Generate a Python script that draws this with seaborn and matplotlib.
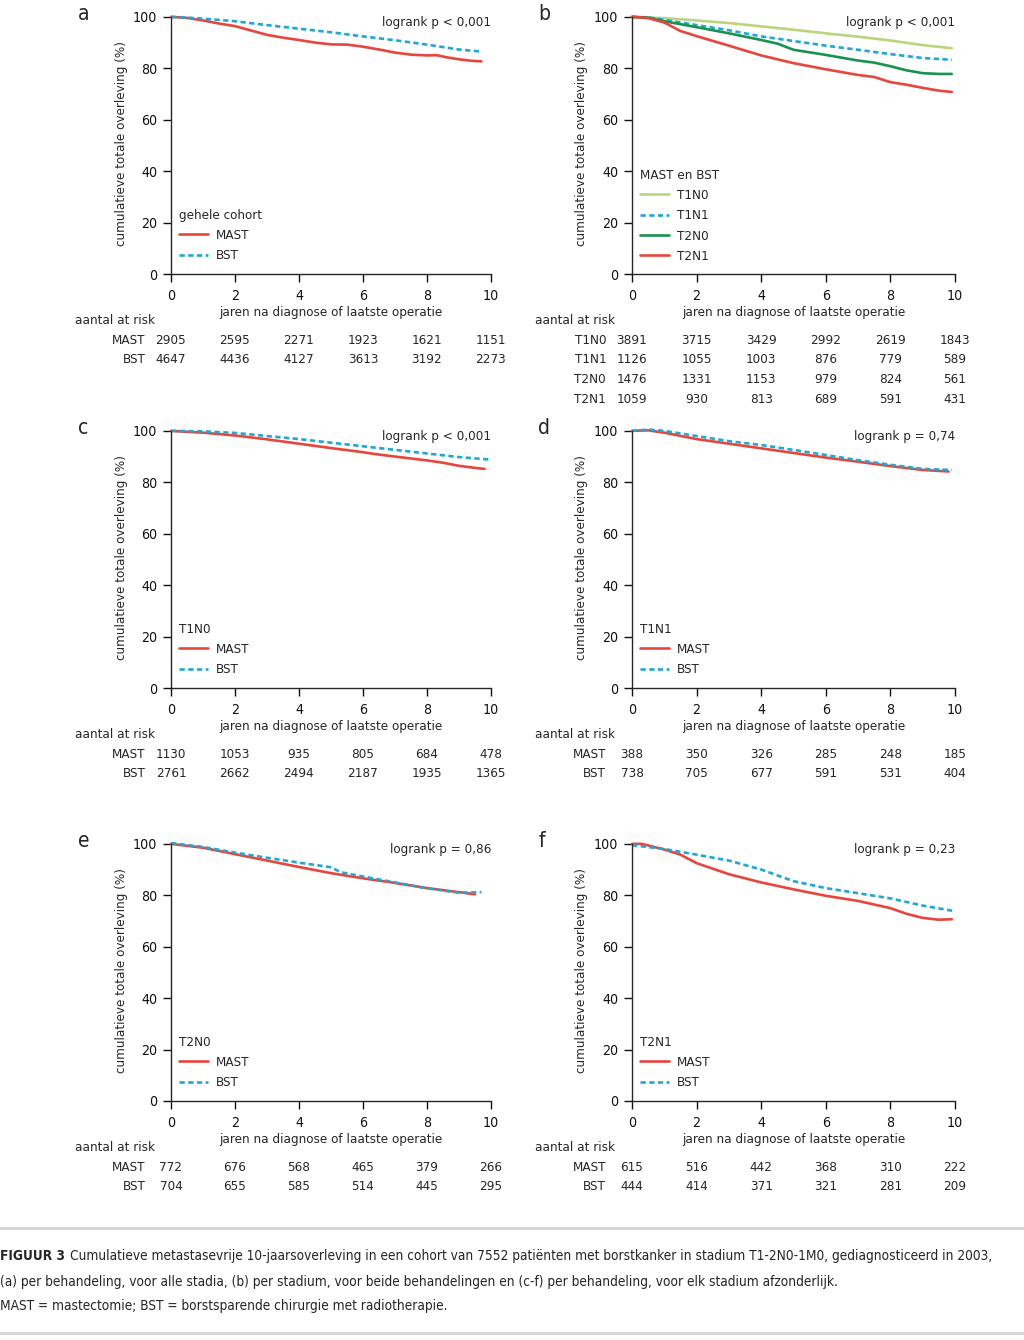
import matplotlib
matplotlib.use('Agg')

import numpy as np
import pandas as pd
import seaborn as sns
import matplotlib.pyplot as plt
from matplotlib.lines import Line2D

# ---------- stijl en lettertype ----------
sns.set_style('ticks')
plt.rcParams['font.family'] = ['Liberation Sans Narrow', 'DejaVu Sans']
plt.rcParams['font.stretch'] = 'condensed'
plt.rcParams['axes.linewidth'] = 1.0
# ------------------------------------------

RED = '#e8453c'
BLUE = '#1fa7d6'
GREEN = '#17924f'
LIGHT = '#bcd47e'

# ---- data ----
# a: gehele cohort
a_mast_t = [0, 0.5, 1, 1.5, 2, 2.5, 3, 3.5, 4, 4.5, 5, 5.5, 6, 6.5, 7, 7.5, 8, 8.3, 8.6, 9, 9.4, 9.7]
a_mast_s = [100, 99.6, 98.6, 97.4, 96.4, 94.7, 93.0, 91.9, 91.0, 90.0, 89.3, 89.2, 88.4, 87.3, 86.1, 85.3, 85.0, 85.1, 84.3, 83.5, 82.9, 82.7]
a_bst_t = [0, 0.5, 1, 2, 3, 4, 5, 6, 7, 8, 9, 9.7]
a_bst_s = [100, 99.7, 99.3, 98.3, 96.8, 95.4, 94.0, 92.4, 90.9, 89.2, 87.3, 86.5]

# b: per stadium
b_t1n0_t = [0, 1, 2, 3, 4, 5, 6, 7, 8, 9, 9.9]
b_t1n0_s = [100, 99.5, 98.6, 97.6, 96.3, 95.0, 93.6, 92.3, 90.8, 89.0, 87.8]
b_t1n1_t = [0, 0.5, 1, 2, 3, 4, 5, 6, 7, 8, 9, 9.9]
b_t1n1_s = [100, 99.8, 98.8, 96.8, 94.8, 92.4, 90.6, 88.8, 87.2, 85.5, 84.0, 83.3]
b_t2n0_t = [0, 0.5, 1, 2, 3, 4, 4.5, 5, 6, 7, 7.5, 8, 8.5, 9, 9.5, 9.9]
b_t2n0_s = [100, 99.7, 98.3, 96.0, 93.6, 91.0, 89.6, 87.2, 85.2, 83.0, 82.2, 80.8, 79.2, 78.1, 77.8, 77.8]
b_t2n1_t = [0, 0.5, 1, 1.5, 2, 3, 4, 5, 6, 7, 7.5, 8, 8.5, 9, 9.5, 9.9]
b_t2n1_s = [100, 99.5, 97.8, 94.5, 92.5, 88.8, 85.0, 82.0, 79.6, 77.4, 76.6, 74.6, 73.6, 72.4, 71.3, 70.8]

# c: T1N0
c_mast_t = [0, 0.5, 1, 2, 3, 4, 5, 6, 6.3, 7, 8, 8.5, 9, 9.5, 9.8]
c_mast_s = [100, 99.6, 99.3, 98.2, 96.7, 95.0, 93.3, 91.7, 91.1, 90.0, 88.5, 87.6, 86.4, 85.6, 85.2]
c_bst_t = [0, 1, 2, 3, 4, 5, 6, 7, 8, 9, 10]
c_bst_s = [100, 99.8, 99.2, 98.0, 96.8, 95.4, 94.0, 92.6, 91.2, 89.8, 88.8]

# d: T1N1
d_mast_t = [0, 0.5, 1, 2, 3, 4, 5, 6, 7, 8, 9, 9.8]
d_mast_s = [100, 100.2, 99.3, 96.8, 95.0, 93.2, 91.4, 89.6, 88.0, 86.3, 84.8, 84.2]
d_bst_t = [0, 0.5, 1, 2, 3, 4, 5, 6, 7, 8, 9, 9.9]
d_bst_s = [100, 100.5, 100.0, 98.0, 96.0, 94.5, 92.6, 90.6, 88.6, 86.8, 85.2, 84.8]

# e: T2N0
e_mast_t = [0, 1, 2, 3, 4, 5, 6, 7, 8, 9, 9.5]
e_mast_s = [100, 98.5, 96.0, 93.5, 91.0, 88.6, 86.6, 84.8, 82.8, 81.2, 80.4]
e_bst_t = [0, 1, 2, 3, 4, 5, 5.3, 6, 7, 8, 9, 9.7]
e_bst_s = [100.3, 98.8, 96.6, 94.6, 92.7, 90.9, 89.0, 87.3, 85.0, 82.7, 81.0, 81.2]

# f: T2N1
f_mast_t = [0, 0.3, 1, 1.5, 2, 3, 4, 5, 6, 7, 8, 8.5, 9, 9.5, 9.9]
f_mast_s = [100, 100, 97.8, 95.8, 92.5, 88.2, 85.0, 82.3, 79.8, 77.8, 75.0, 72.8, 71.2, 70.5, 70.7]
f_bst_t = [0, 1, 2, 3, 4, 5, 6, 7, 8, 9, 10]
f_bst_s = [99.5, 98.0, 95.8, 93.5, 90.0, 85.5, 82.8, 80.8, 78.8, 76.0, 73.8]

# aantal at risk
risk_years = [0, 2, 4, 6, 8, 10]
a_risk_mast = [2905, 2595, 2271, 1923, 1621, 1151]
a_risk_bst = [4647, 4436, 4127, 3613, 3192, 2273]
b_risk_t1n0 = [3891, 3715, 3429, 2992, 2619, 1843]
b_risk_t1n1 = [1126, 1055, 1003, 876, 779, 589]
b_risk_t2n0 = [1476, 1331, 1153, 979, 824, 561]
b_risk_t2n1 = [1059, 930, 813, 689, 591, 431]
c_risk_mast = [1130, 1053, 935, 805, 684, 478]
c_risk_bst = [2761, 2662, 2494, 2187, 1935, 1365]
d_risk_mast = [388, 350, 326, 285, 248, 185]
d_risk_bst = [738, 705, 677, 591, 531, 404]
e_risk_mast = [772, 676, 568, 465, 379, 266]
e_risk_bst = [704, 655, 585, 514, 445, 295]
f_risk_mast = [615, 516, 442, 368, 310, 222]
f_risk_bst = [444, 414, 371, 321, 281, 209]

panel_letters = ['a', 'b', 'c', 'd', 'e', 'f']
logrank_texts = ['logrank p < 0,001', 'logrank p < 0,001', 'logrank p < 0,001',
                 'logrank p = 0,74', 'logrank p = 0,86', 'logrank p = 0,23']
legend_titles = ['gehele cohort', 'MAST en BST', 'T1N0', 'T1N1', 'T2N0', 'T2N1']

W, H = 1024, 1340
fig = plt.figure(figsize=(W / 100, H / 100), dpi=100)

FS = 9.6


def make_axes(left_px, bottom_px, width_px=321, height_px=261):
    return fig.add_axes([left_px / W, 1 - bottom_px / H, width_px / W, height_px / H])


def style_axes(ax, letter, logrank):
    ax.set_xlim(0, 10)
    ax.set_ylim(0, 101.5)
    ax.spines['left'].set_bounds(0, 100)
    ax.spines['bottom'].set_bounds(0, 10)
    sns.despine(ax=ax)
    ax.set_xticks([0, 2, 4, 6, 8, 10])
    ax.set_yticks([0, 20, 40, 60, 80, 100])
    ax.tick_params(axis='both', direction='out', length=6, width=1, labelsize=FS + 0.6, colors='#111111')
    ax.tick_params(axis='y', pad=4)
    ax.tick_params(axis='x', pad=5)
    ax.set_xlabel('jaren na diagnose of laatste operatie', fontsize=FS, labelpad=2)
    ax.set_ylabel('cumulatieve totale overleving (%)', fontsize=FS)
    ax.yaxis.set_label_coords(-0.135, 0.5)
    ax.text(-0.29, 0.995, letter, transform=ax.transAxes, fontsize=15, ha='left', va='center')
    ax.text(1.0, 0.965, logrank, transform=ax.transAxes, fontsize=FS, ha='right', va='center')


def add_line(ax, t, s, color, label, dashed=False):
    ls = (0, (2.0, 1.3)) if dashed else '-'
    df = pd.DataFrame({'t': t, 's': s})
    sns.lineplot(data=df, x='t', y='s', ax=ax, color=color, linestyle=ls, linewidth=1.9,
                 label=label, clip_on=False, legend=False)


def add_legend(ax, title, top):
    leg = ax.legend(title=title, loc='upper left', bbox_to_anchor=(0.025, top), frameon=False,
                    fontsize=FS, title_fontsize=FS, borderaxespad=0, borderpad=0,
                    handlelength=2.2, handletextpad=0.55, labelspacing=0.55, alignment='left')
    return leg


def add_risk(ax, rows):
    ax.text(-0.30, -0.18, 'aantal at risk', transform=ax.transAxes, fontsize=FS, ha='left', va='center')
    trans = ax.get_xaxis_transform()
    for i, (name, vals) in enumerate(rows):
        y = -0.253 - i * 0.0755
        ax.text(-0.08, y, name, transform=ax.transAxes, fontsize=FS, ha='right', va='center')
        for yr, v in zip(risk_years, vals):
            ax.text(yr, y, str(v), transform=trans, fontsize=FS, ha='center', va='center')


# panel a
ax = make_axes(171, 274, 320)
add_line(ax, a_mast_t, a_mast_s, RED, 'MAST')
add_line(ax, a_bst_t, a_bst_s, BLUE, 'BST', dashed=True)
style_axes(ax, panel_letters[0], logrank_texts[0])
add_legend(ax, legend_titles[0], 0.25)
add_risk(ax, [('MAST', a_risk_mast), ('BST', a_risk_bst)])

# panel b
ax = make_axes(632, 274, 323)
add_line(ax, b_t1n0_t, b_t1n0_s, LIGHT, 'T1N0')
add_line(ax, b_t1n1_t, b_t1n1_s, BLUE, 'T1N1', dashed=True)
add_line(ax, b_t2n0_t, b_t2n0_s, GREEN, 'T2N0')
add_line(ax, b_t2n1_t, b_t2n1_s, RED, 'T2N1')
style_axes(ax, panel_letters[1], logrank_texts[1])
add_legend(ax, legend_titles[1], 0.403)
add_risk(ax, [('T1N0', b_risk_t1n0), ('T1N1', b_risk_t1n1), ('T2N0', b_risk_t2n0), ('T2N1', b_risk_t2n1)])

# panel c
ax = make_axes(171, 688, 320)
add_line(ax, c_mast_t, c_mast_s, RED, 'MAST')
add_line(ax, c_bst_t, c_bst_s, BLUE, 'BST', dashed=True)
style_axes(ax, panel_letters[2], logrank_texts[2])
add_legend(ax, legend_titles[2], 0.25)
add_risk(ax, [('MAST', c_risk_mast), ('BST', c_risk_bst)])

# panel d
ax = make_axes(632, 688, 323)
add_line(ax, d_mast_t, d_mast_s, RED, 'MAST')
add_line(ax, d_bst_t, d_bst_s, BLUE, 'BST', dashed=True)
style_axes(ax, panel_letters[3], logrank_texts[3])
add_legend(ax, legend_titles[3], 0.25)
add_risk(ax, [('MAST', d_risk_mast), ('BST', d_risk_bst)])

# panel e
ax = make_axes(171, 1101, 320)
add_line(ax, e_mast_t, e_mast_s, RED, 'MAST')
add_line(ax, e_bst_t, e_bst_s, BLUE, 'BST', dashed=True)
style_axes(ax, panel_letters[4], logrank_texts[4])
add_legend(ax, legend_titles[4], 0.25)
add_risk(ax, [('MAST', e_risk_mast), ('BST', e_risk_bst)])

# panel f
ax = make_axes(632, 1101, 323)
add_line(ax, f_mast_t, f_mast_s, RED, 'MAST')
add_line(ax, f_bst_t, f_bst_s, BLUE, 'BST', dashed=True)
style_axes(ax, panel_letters[5], logrank_texts[5])
add_legend(ax, legend_titles[5], 0.25)
add_risk(ax, [('MAST', f_risk_mast), ('BST', f_risk_bst)])

# ---- onderschrift ----
for ypx in (1228, 1333):
    fig.add_artist(Line2D([0, 1], [1 - ypx / H, 1 - ypx / H], transform=fig.transFigure,
                          color='#d4d4d4', linewidth=2))

cap_fs = 9.8
bold = fig.text(0.0, 1 - 1256 / H, 'FIGUUR 3', fontsize=cap_fs, fontweight='bold', ha='left', va='center')
fig.canvas.draw()
bb = bold.get_window_extent(renderer=fig.canvas.get_renderer())
fig.text(bb.x1 / W + 0.005, 1 - 1256 / H,
         'Cumulatieve metastasevrije 10-jaarsoverleving in een cohort van 7552 patiënten met borstkanker '
         'in stadium T1-2N0-1M0, gediagnosticeerd in 2003,', fontsize=cap_fs, ha='left', va='center')
fig.text(0.0, 1 - 1282 / H,
         '(a) per behandeling, voor alle stadia, (b) per stadium, voor beide behandelingen en (c-f) per '
         'behandeling, voor elk stadium afzonderlijk.', fontsize=cap_fs, ha='left', va='center')
fig.text(0.0, 1 - 1306 / H, 'MAST = mastectomie; BST = borstsparende chirurgie met radiotherapie.',
         fontsize=cap_fs, ha='left', va='center')

fig.savefig('out.png', dpi=100)
